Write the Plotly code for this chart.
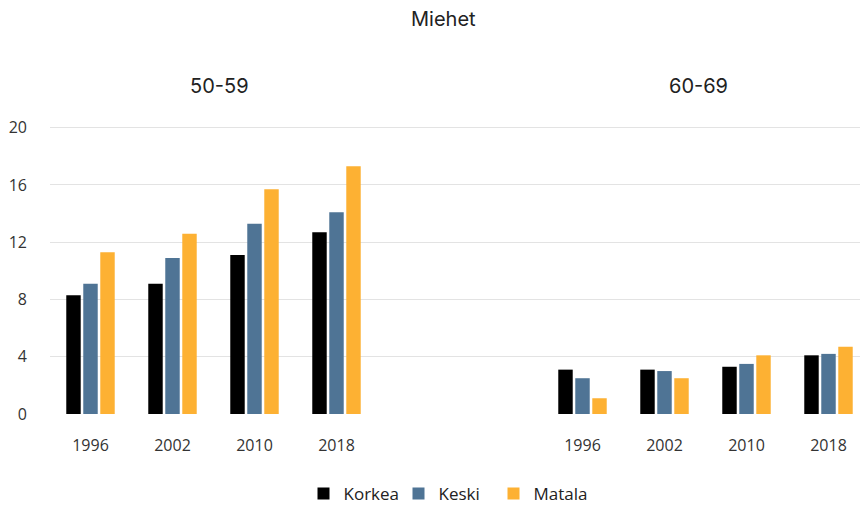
import plotly.graph_objects as go

title = "Miehet"
groups = ["50-59", "60-69"]
years = ["1996", "2002", "2010", "2018"]
series_names = ["Korkea", "Keski", "Matala"]

korkea_5059 = [8.3, 9.1, 11.1, 12.7]
keski_5059 = [9.1, 10.9, 13.3, 14.1]
matala_5059 = [11.3, 12.6, 15.7, 17.3]

korkea_6069 = [3.1, 3.1, 3.3, 4.1]
keski_6069 = [2.5, 3.0, 3.5, 4.2]
matala_6069 = [1.1, 2.5, 4.1, 4.7]

y_ticks = [0, 4, 8, 12, 16, 20]

colors = ["#000000", "#4f7495", "#fdb133"]

n = len(years)
gap = 2
xpos = list(range(n)) + [n + gap + i for i in range(n)]
tick_text = years + years

series_values = [
    korkea_5059 + korkea_6069,
    keski_5059 + keski_6069,
    matala_5059 + matala_6069,
]

fig = go.Figure()
for name, vals, col in zip(series_names, series_values, colors):
    fig.add_trace(go.Bar(x=xpos, y=vals, name=name, marker=dict(color=col, line=dict(width=0))))

font_main = "Inter, Lato, sans-serif"
font_ticks = "Open Sans, sans-serif"

T, B, L, R = 122, 91, 50, 1
W = 861 - L - R
H = 505 - T - B
cat_px = 82.0
first_center_px = 90.5
x_lo = -(first_center_px - L) / cat_px
x_hi = x_lo + W / cat_px


def py(pixel_y):
    return 1 - (pixel_y - T) / H


def px(pixel_x):
    return (pixel_x - L) / W


fig.update_layout(
    width=861, height=505,
    margin=dict(l=L, r=R, t=T, b=B, autoexpand=False),
    paper_bgcolor="white", plot_bgcolor="white",
    barmode="group", bargap=0.378, bargroupgap=0.15,
    showlegend=True,
    legend=dict(orientation="h", xref="paper", yref="paper",
                x=px(446), xanchor="center", y=py(494), yanchor="middle",
                font=dict(family=font_ticks, size=17, color="#222222"),
                traceorder="normal", entrywidth=50),
    xaxis=dict(range=[x_lo, x_hi], tickmode="array", tickvals=xpos,
               ticktext=tick_text, showgrid=False, zeroline=False, showline=False,
               ticks="", ticklabelstandoff=20, automargin=False,
               tickfont=dict(family=font_ticks, size=16, color="#333333")),
    yaxis=dict(range=[0, 20.4], tickmode="array", tickvals=y_ticks,
               showgrid=True, gridcolor="#e3e3e3", gridwidth=1, zeroline=False,
               showline=False, ticks="", ticklabelstandoff=22, automargin=False,
               tickfont=dict(family=font_ticks, size=16, color="#333333")),
    annotations=[
        dict(text=title, xref="paper", yref="paper", x=px(443), y=py(19),
             showarrow=False, xanchor="center", yanchor="middle",
             font=dict(family=font_main, size=20, color="#222222")),
        dict(text=groups[0], xref="paper", yref="paper", x=px(219), y=py(86),
             showarrow=False, xanchor="center", yanchor="middle",
             font=dict(family=font_main, size=20, color="#222222")),
        dict(text=groups[1], xref="paper", yref="paper", x=px(698), y=py(86),
             showarrow=False, xanchor="center", yanchor="middle",
             font=dict(family=font_main, size=20, color="#222222")),
    ],
)

fig.write_html("out.html", config={"displayModeBar": False},
               post_script="document.body.style.margin='0';document.body.style.overflow='hidden';")
